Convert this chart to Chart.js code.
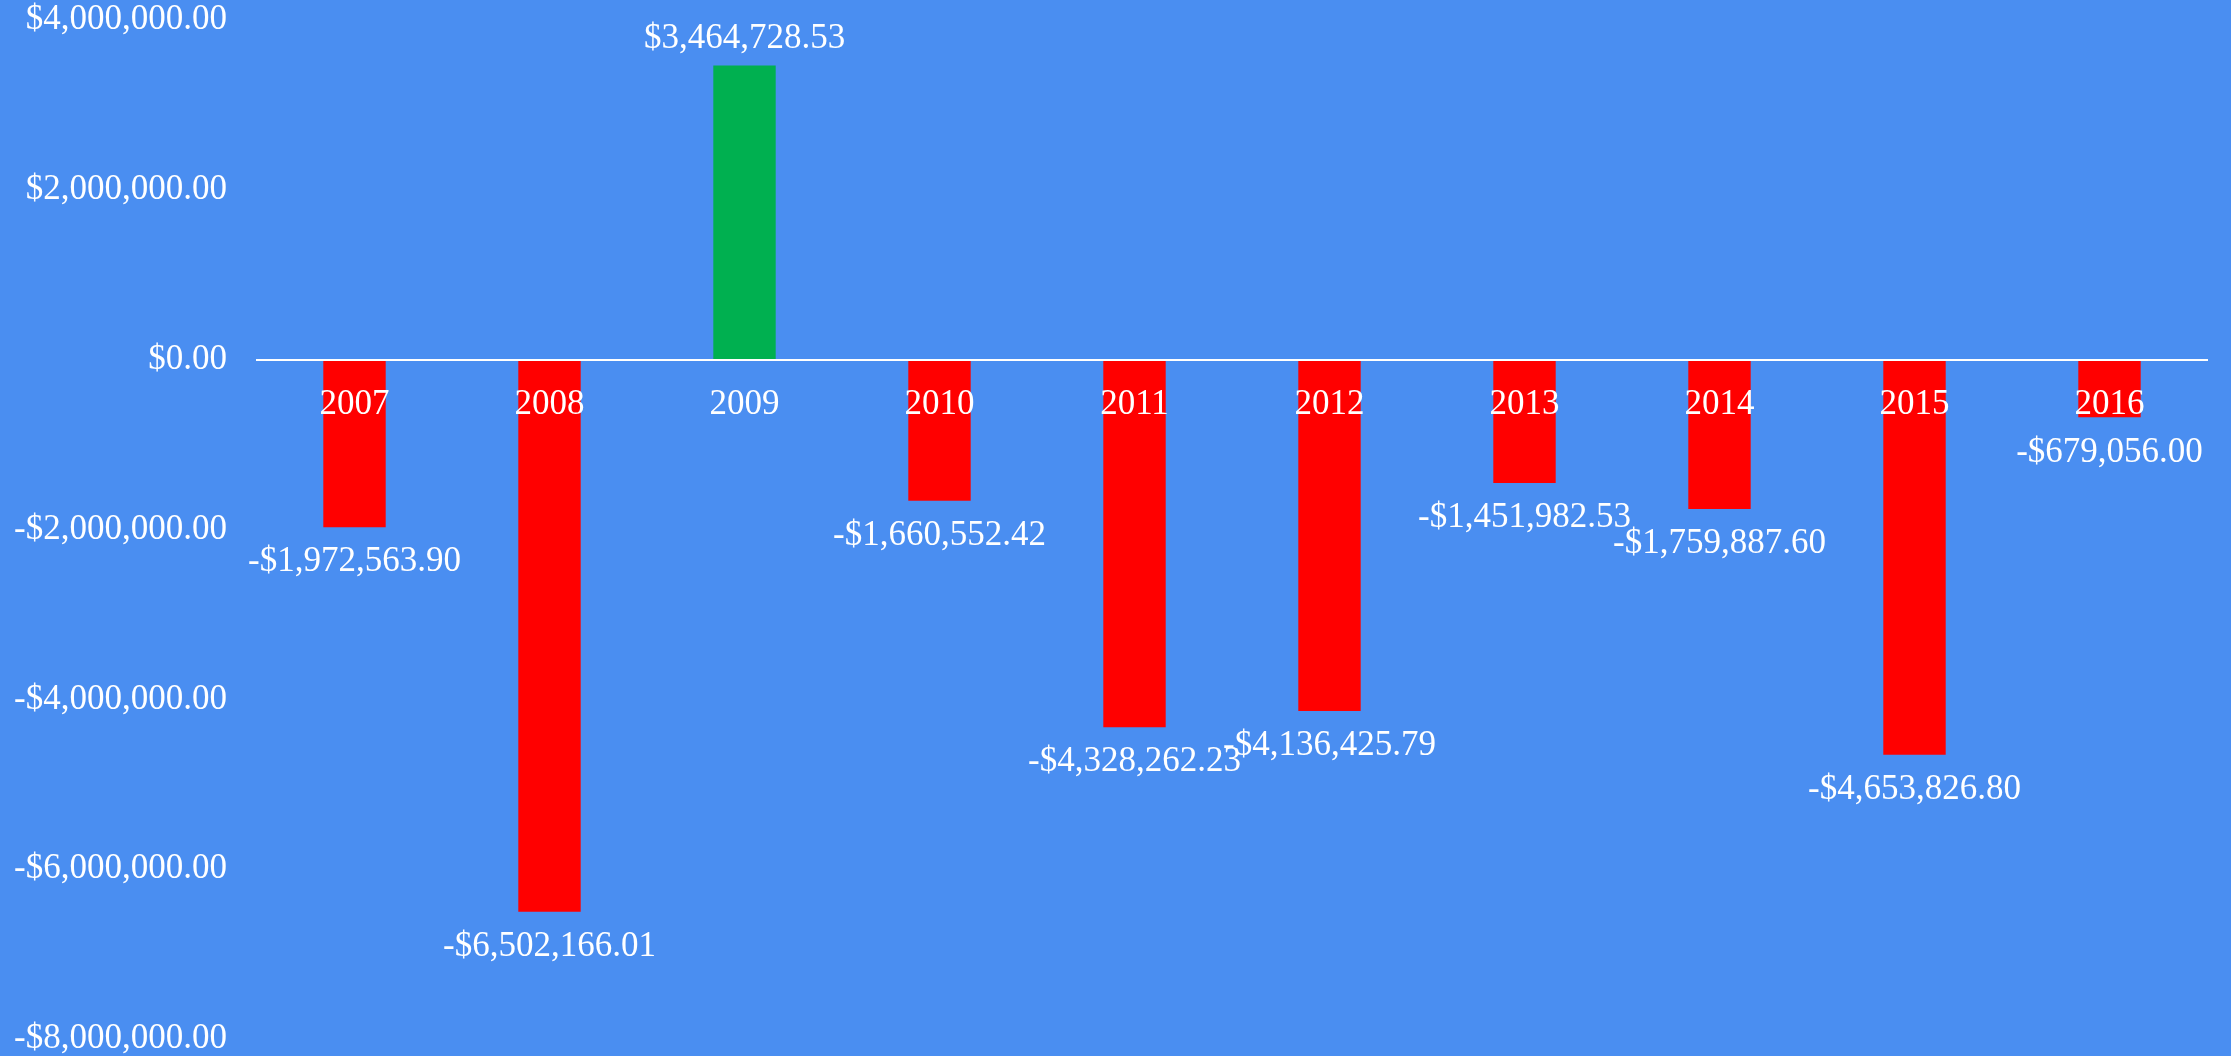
<!DOCTYPE html>
<html lang="en">
<head>
    <meta charset="UTF-8">
    <title>Yearly Net Result</title>
    <script src="https://cdn.jsdelivr.net/npm/chart.js"></script>
    <style>
        body { margin: 0; background: #4a8ef1; }
        canvas { display: block; }
    </style>
</head>
<body>
    <canvas id="netChart" width="2231" height="1056"></canvas>

    <script>
        const years = ['2007', '2008', '2009', '2010', '2011', '2012', '2013', '2014', '2015', '2016'];
        const netValues = [-1972563.90, -6502166.01, 3464728.53, -1660552.42, -4328262.23,
                           -4136425.79, -1451982.53, -1759887.60, -4653826.80, -679056.00];
        const yTicks = [4000000, 2000000, 0, -2000000, -4000000, -6000000, -8000000];

        const money = new Intl.NumberFormat('en-US', { style: 'currency', currency: 'USD' });
        const fontFamily = '"Liberation Serif", "Times New Roman", serif';
        const fontSize = 35;

        // draws the value next to the end of every bar
        const valueLabels = {
            id: 'valueLabels',
            afterDatasetsDraw(chart) {
                const ctx = chart.ctx;
                const meta = chart.getDatasetMeta(0);
                ctx.save();
                ctx.font = fontSize + 'px ' + fontFamily;
                ctx.fillStyle = '#ffffff';
                ctx.textAlign = 'center';
                ctx.textBaseline = 'middle';
                meta.data.forEach((bar, i) => {
                    const v = netValues[i];
                    const y = v < 0 ? bar.y + 35 : bar.y - 27;
                    ctx.fillText(money.format(v), bar.x, y);
                });
                ctx.restore();
            }
        };

        const ctx = document.getElementById('netChart').getContext('2d');
        new Chart(ctx, {
            type: 'bar',
            data: {
                labels: years,
                datasets: [{
                    data: netValues,
                    backgroundColor: netValues.map(v => v < 0 ? '#ff0000' : '#00b050'),
                    borderWidth: 0,
                    barPercentage: 0.32,
                    categoryPercentage: 1
                }]
            },
            options: {
                responsive: false,
                animation: false,
                layout: { padding: { right: 24 } },
                plugins: {
                    legend: { display: false },
                    tooltip: { enabled: false }
                },
                scales: {
                    x: {
                        position: { y: 0 },
                        afterFit: s => { s.height = 0; },
                        grid: { display: false, drawTicks: false },
                        border: { color: '#ffffff', width: 2, z: 1 },
                        ticks: {
                            z: 1,
                            color: '#ffffff',
                            font: { family: fontFamily, size: fontSize },
                            padding: 24,
                            maxRotation: 0
                        }
                    },
                    y: {
                        min: -8000000,
                        max: 4000000,
                        afterBuildTicks: s => { s.ticks = yTicks.map(v => ({ value: v })); },
                        afterFit: s => {
                            s.width = 257;
                            s.paddingTop = 20;
                            s.paddingBottom = 17;
                        },
                        grid: {
                            display: true,
                            drawOnChartArea: false,
                            drawTicks: true,
                            tickLength: 30,
                            tickColor: 'rgba(0,0,0,0)'
                        },
                        border: { display: false },
                        ticks: {
                            color: '#ffffff',
                            font: { family: fontFamily, size: fontSize },
                            padding: 0,
                            callback: v => money.format(v)
                        }
                    }
                }
            },
            plugins: [valueLabels]
        });
    </script>
</body>
</html>
